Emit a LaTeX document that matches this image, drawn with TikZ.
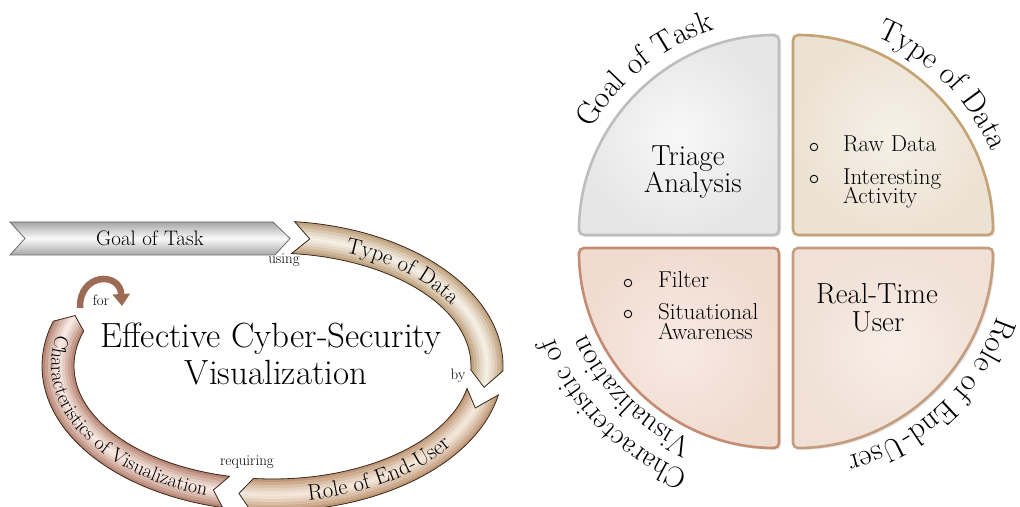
\documentclass[tikz,border=0pt]{standalone}
\usepackage{fontspec}
\usetikzlibrary{decorations.text,shadows,arrows.meta}
\definecolor{goalEdge}{HTML}{A6A6A6}
\definecolor{goalLight}{HTML}{FAFAFA}
\definecolor{goalLine}{HTML}{6A6A6A}
\definecolor{typeEdge}{HTML}{B08D62}
\definecolor{typeLight}{HTML}{F8F2EA}
\definecolor{roleEdge}{HTML}{B0825C}
\definecolor{roleLight}{HTML}{F7EBDF}
\definecolor{charEdge}{HTML}{A66A55}
\definecolor{charLight}{HTML}{FBEEE8}
\definecolor{segLine}{HTML}{3B2A1F}
\definecolor{forBrown}{HTML}{9C6B55}
\definecolor{qTLin}{HTML}{F8F8F8}
\definecolor{qTLout}{HTML}{E6E6E6}
\definecolor{qTLline}{HTML}{BDBDBD}
\definecolor{qTRin}{HTML}{F6F0E7}
\definecolor{qTRout}{HTML}{ECE2D3}
\definecolor{qTRline}{HTML}{C4A474}
\definecolor{qBLin}{HTML}{F8EAE3}
\definecolor{qBLout}{HTML}{F0DBD0}
\definecolor{qBLline}{HTML}{C48C72}
\definecolor{qBRin}{HTML}{F8EEE7}
\definecolor{qBRout}{HTML}{F0E0D5}
\definecolor{qBRline}{HTML}{C49C7E}
\newcommand{\pielab}{\fontsize{31}{31}\selectfont}
\newcommand{\charlab}{\fontsize{29.5}{29.5}\selectfont}
\newcommand{\ringlab}{\fontsize{22.5}{22.5}\selectfont}
\newcommand{\ringlabsmall}{\fontsize{20}{20}\selectfont}
\newcommand{\SegPath}[4]{({\ao*cos(#1)},{\bo*sin(#1)}) arc[start angle=#1, end angle=#3, x radius=\ao pt, y radius=\bo pt] -- ({\am*cos(#4)},{\bm*sin(#4)}) -- ({\ai*cos(#3)},{\bi*sin(#3)}) arc[start angle=#3, end angle=#1, x radius=\ai pt, y radius=\bi pt] -- ({\am*cos(#2)},{\bm*sin(#2)}) -- cycle}
\newcommand{\RingSeg}[6]{%
  \begin{scope}
    \clip \SegPath{#1}{#2}{#3}{#4};
    \foreach \w/\p in {40/0,32/22,26/40,20/58,14/74,8/88,3/96}{%
      \draw[line width=\w pt, #6!\p!#5] ({\am*cos(#1+10)},{\bm*sin(#1+10)}) arc[start angle=#1+10, end angle=#4-10, x radius=\am pt, y radius=\bm pt];
    }
  \end{scope}
  \draw[segline] \SegPath{#1}{#2}{#3}{#4};
}
\begin{document}
\begin{tikzpicture}[x=1pt,y=1pt,
  every node/.style={inner sep=0pt, outer sep=0pt},
  segline/.style={draw=segLine, line width=0.8pt},
  quad/.style={line width=2.6pt, rounded corners=5pt, drop shadow={opacity=0.2, shadow xshift=2pt, shadow yshift=-2pt}},
  lbl/.style={font=\fontsize{15}{15}\selectfont},
  titlefont/.style={font=\fontsize{35}{35}\selectfont},
  qbig/.style={font=\fontsize{29}{29}\selectfont},
  qsmall/.style={font=\fontsize{23}{23}\selectfont},
  bulletmark/.style={circle, draw=black, line width=0.9pt, minimum size=7.5pt, inner sep=0pt}
]
\useasboundingbox (0,0) rectangle (1020,506);
\fill[white] (0,0) rectangle (1020,506);

% ---------- right: pie quadrants ----------
\path[quad, draw=qTLline, inner color=qTLin, outer color=qTLout] (779,271) -- (579,271) arc[start angle=180, end angle=90, radius=200pt] -- cycle;
\path[quad, draw=qTRline, inner color=qTRin, outer color=qTRout] (793,271) -- (793,471) arc[start angle=90, end angle=0, radius=200pt] -- cycle;
\path[quad, draw=qBLline, inner color=qBLin, outer color=qBLout] (779,258) -- (779,58) arc[start angle=270, end angle=180, radius=200pt] -- cycle;
\path[quad, draw=qBRline, inner color=qBRin, outer color=qBRout] (793,258) -- (993,258) arc[start angle=0, end angle=-90, radius=200pt] -- cycle;

\node[qbig, anchor=base] (triage) at (688,340) {Triage};
\node[qbig, anchor=base] (analysis) at (693,313) {Analysis};

\node[bulletmark] (bRaw) at (814,359) {};
\node[qsmall, anchor=base west] (raw) at (843,354) {Raw Data};
\node[bulletmark] (bInt) at (814,327) {};
\node[qsmall, anchor=base west] (inter) at (843,321) {Interesting};
\node[qsmall, anchor=base west] (activity) at (843,302) {Activity};

\node[bulletmark] (bFil) at (628,223) {};
\node[qsmall, anchor=base west] (filter) at (658,218) {Filter};
\node[bulletmark] (bSit) at (628,192) {};
\node[qsmall, anchor=base west] (situ) at (658,186) {Situational};
\node[qsmall, anchor=base west] (aware) at (658,166) {Awareness};

\node[qbig, anchor=base] (realtime) at (877,202) {Real-Time};
\node[qbig, anchor=base] (user) at (878,174) {User};

\path[decorate, decoration={text along path, text align=center, text={|\pielab|Goal of Task}}]
  ([shift={(779,271)}]164:215pt) arc[start angle=164, end angle=94, radius=215pt];
\path[decorate, decoration={text along path, text align=center, text={|\pielab|Type of Data}}]
  ([shift={(793,271)}]80:215pt) arc[start angle=80, end angle=10, radius=215pt];
\path[decorate, decoration={text along path, text align=center, text={|\pielab|Role of End-User}}]
  ([shift={(793,258)}]-10:215pt) arc[start angle=-10, end angle=-84, radius=215pt];
\path[decorate, decoration={text along path, text align=center, text={|\charlab|Characteristic of}}]
  ([shift={(779,258)}]267:242pt) arc[start angle=267, end angle=183, radius=242pt];
\path[decorate, decoration={text along path, text align=center, text={|\charlab|Visualization}}]
  ([shift={(779,258)}]267:211pt) arc[start angle=267, end angle=183, radius=211pt];

% ---------- left: cycle ----------
\path[top color=goalEdge, bottom color=goalEdge, middle color=goalLight, draw=goalLine, line width=0.8pt]
  (10,284) -- (273,284) -- (290,267.5) -- (275,251) -- (10,251) -- (25,267.5) -- cycle;
\node[font=\fontsize{21}{21}\selectfont] (goal) at (150,268) {Goal of Task};

\begin{scope}[shift={(272.5,140)}]
  \def\ao{230.5}\def\bo{145}\def\ai{198.5}\def\bi{113}\def\am{214.5}\def\bm{129}
  \RingSeg{84.5}{80}{-2}{-9.5}{typeEdge}{typeLight}
  \RingSeg{-11.5}{-19}{-95.5}{-99}{roleEdge}{roleLight}
  \RingSeg{257.5}{254}{162}{157}{charEdge}{charLight}
  \path[decorate, decoration={text along path, text align=center, text={|\ringlab|Type of Data}}]
    ({207*cos(80)},{121.5*sin(80)}) arc[start angle=80, end angle=14, x radius=207pt, y radius=121.5pt];
  \path[decorate, decoration={text along path, text align=center, text={|\ringlab|Role of End-User}}]
    ({221.5*cos(-88)},{136*sin(-88)}) arc[start angle=-88, end angle=-26, x radius=221.5pt, y radius=136pt];
  \path[decorate, decoration={text along path, text align=center, text={|\ringlabsmall|Characteristics of Visualization}}]
    ({221.5*cos(163)},{136*sin(163)}) arc[start angle=163, end angle=255, x radius=221.5pt, y radius=136pt];
\end{scope}

\coordinate (forStart) at (80,198);
\coordinate (forEnd) at (122,200);
\draw[line width=6.5pt, forBrown, -{Triangle[width=17pt,length=12pt]}] (forStart) .. controls (79,233) and (120,235) .. (forEnd);

\node[titlefont, anchor=base] (title1) at (271,158) {Effective Cyber-Security};
\node[titlefont, anchor=base] (title2) at (276,121) {Visualization};

\node[lbl, anchor=base] (using) at (284,242) {using};
\node[lbl, anchor=base] (by) at (458,126) {by};
\node[lbl, anchor=base] (requiring) at (247,40) {requiring};
\node[lbl, anchor=base] (for) at (101,200) {for};
\end{tikzpicture}
\end{document}
